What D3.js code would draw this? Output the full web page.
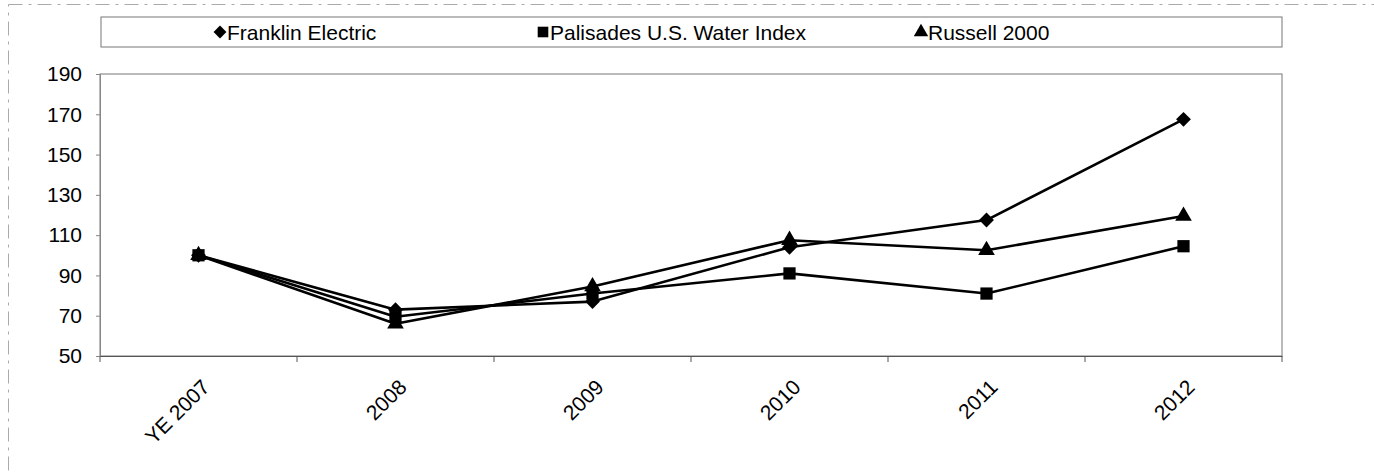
<!DOCTYPE html>
<html>
<head>
<meta charset="utf-8">
<script src="https://cdn.jsdelivr.net/npm/d3@7"></script>
<style>
  body { margin: 0; background: #fff; }
  svg { font-family: "Liberation Sans", Arial, sans-serif; }
</style>
</head>
<body>
<div id="graph-ctx"><svg></svg></div>
<script>
let categories = ["YE 2007", "2008", "2009", "2010", "2011", "2012"]
let franklin = [100, 73, 77, 104, 117.5, 167.5]
let palisades = [100, 69.5, 81, 91, 81, 104.5]
let russell = [100, 66, 84.5, 107.5, 102.5, 119.5]
let yTicks = [50, 70, 90, 110, 130, 150, 170, 190]

// diamond drawn as a square turned 45 degrees (Excel style, wider than d3's)
let wideDiamond = {
    draw: function (context, size) {
        let r = Math.sqrt(size / 2)
        context.moveTo(0, -r)
        context.lineTo(r, 0)
        context.lineTo(0, r)
        context.lineTo(-r, 0)
        context.closePath()
    }
}

let series = [
    { name: "Franklin Electric", values: franklin, symbol: wideDiamond, size: 110 },
    { name: "Palisades U.S. Water Index", values: palisades, symbol: d3.symbolSquare, size: 150 },
    { name: "Russell 2000", values: russell, symbol: d3.symbolTriangle, size: 120 }
]

let width = 1374
let height = 472
let margin = { top: 74, right: 92, bottom: 116, left: 100 }
let fontSize = 21

let svg = d3.select("#graph-ctx svg")
svg.attr("width", width)
   .attr("height", height)

// faint outer chart border (scan look)
svg.append("rect")
   .attr("x", 8.5).attr("y", 4.5)
   .attr("width", width + 20).attr("height", height + 20)
   .attr("fill", "none")
   .attr("stroke", "#aaa")
   .attr("stroke-dasharray", "14,6,3,6")

let X = d3.scaleBand()
          .domain(categories)
          .range([margin.left, width - margin.right])

let Y = d3.scaleLinear()
          .domain([50, 190])
          .range([height - margin.bottom, margin.top])

// plot area border
svg.append("rect")
   .attr("x", margin.left).attr("y", margin.top)
   .attr("width", width - margin.left - margin.right)
   .attr("height", height - margin.top - margin.bottom)
   .attr("fill", "none")
   .attr("stroke", "#777")
   .attr("stroke-width", 1)

// Y axis
let yaxis = d3.axisLeft(Y).tickValues(yTicks).tickSize(4).tickPadding(14)
let gy = svg.append("g")
   .attr("transform", "translate(" + margin.left + ",0)")
   .call(yaxis)
gy.select(".domain").attr("stroke", "#888")
gy.selectAll(".tick line").attr("stroke", "#888")
gy.selectAll("text").attr("font-size", fontSize).attr("fill", "#000")

// X axis, ticks between categories
let xaxis = d3.axisBottom(X).tickSize(0).tickFormat("")
let gx = svg.append("g")
   .attr("transform", "translate(0," + (height - margin.bottom) + ")")
   .call(xaxis)
gx.select(".domain").attr("stroke", "#555")

let bounds = categories.map((d) => X(d)).concat([X.range()[1]])
gx.selectAll(".sep")
  .data(bounds)
  .enter()
  .append("line")
  .attr("x1", (d) => d).attr("x2", (d) => d)
  .attr("y1", 0).attr("y2", 6)
  .attr("stroke", "#555")

// rotated category labels, their end sits under the category centre
svg.append("g")
   .selectAll("text")
   .data(categories)
   .enter()
   .append("text")
   .attr("transform", (d) => {
       let cx = X(d) + X.bandwidth() / 2 + 2
       return "translate(" + cx + "," + (height - margin.bottom + 22) + ") rotate(-45)"
   })
   .attr("text-anchor", "end")
   .attr("dy", "0.7em")
   .attr("font-size", fontSize)
   .text((d) => d)

// lines
let line = d3.line()
             .x((d, i) => X(categories[i]) + X.bandwidth() / 2)
             .y((d) => Y(d))

series.forEach((s) => {
    svg.append("path")
       .attr("fill", "none")
       .attr("stroke", "#000")
       .attr("stroke-width", 2.6)
       .attr("stroke-linejoin", "round")
       .attr("d", line(s.values))

    svg.append("g")
       .selectAll("path")
       .data(s.values)
       .enter()
       .append("path")
       .attr("transform", (d, i) => "translate(" + (X(categories[i]) + X.bandwidth() / 2) + "," + Y(d) + ")")
       .attr("d", d3.symbol().type(s.symbol).size(s.size))
       .attr("fill", "#000")
})

// legend
let legendY = 32
svg.append("rect")
   .attr("x", margin.left + 1).attr("y", 17)
   .attr("width", width - margin.left - margin.right - 1).attr("height", 30)
   .attr("fill", "none")
   .attr("stroke", "#777")

let legendX = [220, 543, 921]
let legend = svg.append("g")
   .selectAll("g")
   .data(series)
   .enter()
   .append("g")
   .attr("transform", (d, i) => "translate(" + legendX[i] + "," + legendY + ")")

legend.append("path")
      .attr("d", (d) => d3.symbol().type(d.symbol).size(d.size * 0.75)())
      .attr("fill", "#000")

legend.append("text")
      .attr("x", 7)
      .attr("dy", "0.36em")
      .attr("font-size", fontSize)
      .text((d) => d.name)
</script>
</body>
</html>
